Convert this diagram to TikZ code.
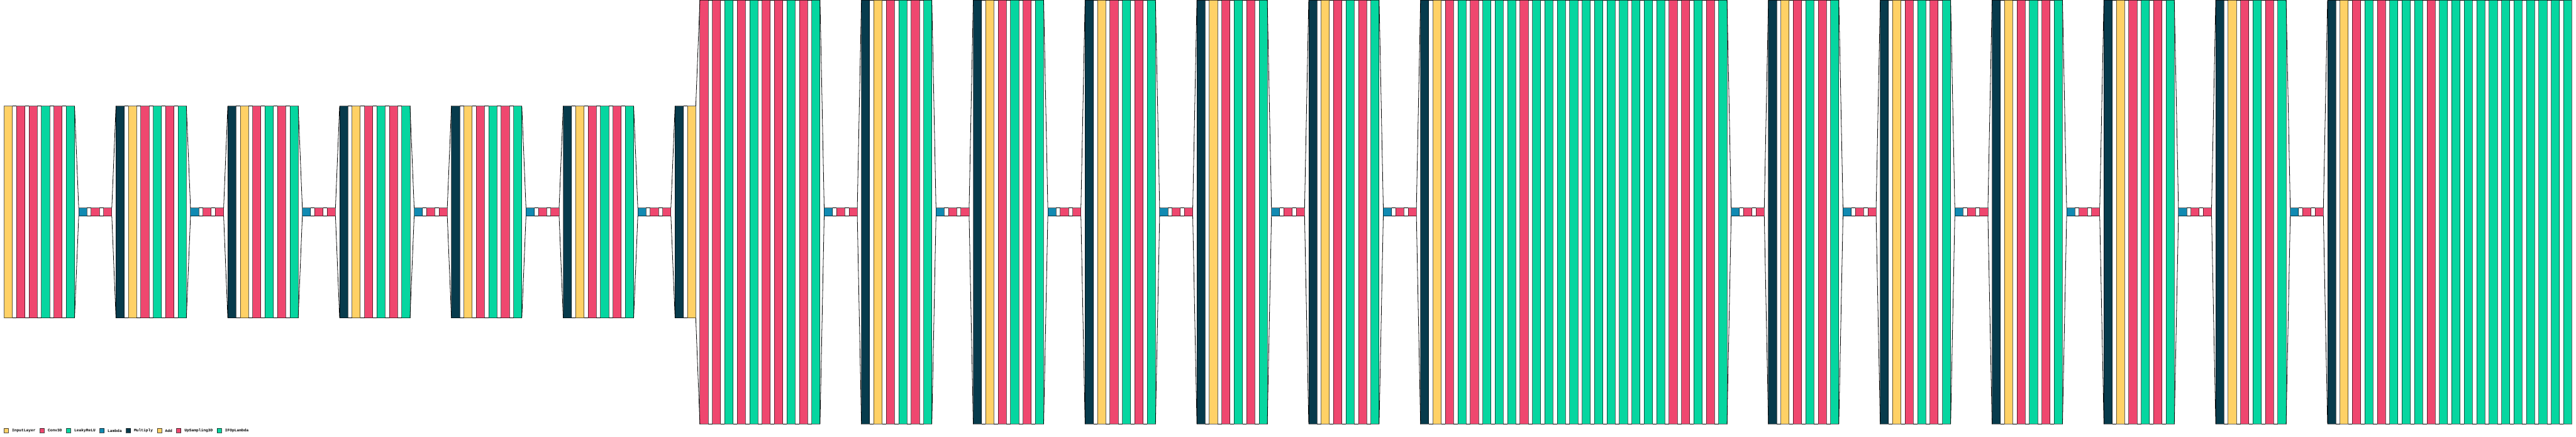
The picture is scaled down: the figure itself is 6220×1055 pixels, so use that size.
\documentclass[tikz,border=0pt]{standalone}
\usepackage{fontspec}
\newfontfamily\legendfont{Liberation Mono}
\usetikzlibrary{positioning}
\definecolor{cY}{HTML}{FFD166}
\definecolor{cR}{HTML}{EF476F}
\definecolor{cG}{HTML}{06D6A0}
\definecolor{cB}{HTML}{118AB2}
\definecolor{cN}{HTML}{073B4C}
\tikzset{
  layer/.style={rectangle, draw=black, draw opacity=0.6, line width=1.3pt,
    inner sep=0pt, outer sep=0pt, minimum width=20pt},
  funnel/.style={draw=black, line width=1.2pt},
  legbox/.style={rectangle, draw=black, draw opacity=0.7, line width=1.2pt,
    minimum width=10.5pt, minimum height=10.5pt, inner sep=0pt, outer sep=0pt},
  legtext/.style={font=\legendfont\bfseries\fontsize{9.5}{9.5}\selectfont,
    inner sep=0pt, outer sep=0pt, text=black}
}
\def\SG{N/512,Y/512,R/512,G/512,R/512,G/512}
\def\CN{B/20,R/20,R/20}
\def\TG{N/1024,Y/1024,R/1024,G/1024,R/1024,G/1024}
\def\GA{Y/512,R/512,R/512,G/512,R/512,G/512}
\def\GS{N/512,Y/512,R/1024,R/1024,G/1024,R/1024,G/1024,R/1024,R/1024,G/1024,R/1024,G/1024}
\def\GL{N/1024,Y/1024,R/1024,G/1024,R/1024,G/1024,G/1024,G/1024,R/1024,G/1024,G/1024,G/1024,G/1024,G/1024,G/1024,G/1024,G/1024,G/1024,G/1024,G/1024,R/1024,R/1024,G/1024,R/1024,G/1024}
\def\GZ{N/1024,Y/1024,R/1024,G/1024,R/1024,G/1024,G/1024,G/1024,R/1024,G/1024,G/1024,G/1024,G/1024,G/1024,G/1024,G/1024,G/1024,G/1024,G/1024,G/1024}
\edef\alllayers{\GA,\CN,\SG,\CN,\SG,\CN,\SG,\CN,\SG,\CN,\SG,\CN,\GS,\CN,\TG,\CN,\TG,\CN,\TG,\CN,\TG,\CN,\TG,\CN,\GL,\CN,\TG,\CN,\TG,\CN,\TG,\CN,\TG,\CN,\TG,\CN,\GZ}
\begin{document}
\begin{tikzpicture}[x=1pt,y=-1pt]
\useasboundingbox (0,0) rectangle (6220,1055);
\foreach \c/\h [count=\i from 0] in \alllayers {
  \node[layer, fill=c\c, minimum height=\h pt] (L\i) at ({20+30*\i},512) {};
}
\foreach \i in {1,...,206} {
  \pgfmathtruncatemacro\j{\i-1}
  \draw[funnel] (L\j.north east) -- (L\i.north west);
  \draw[funnel] (L\j.south east) -- (L\i.south west);
}
% legend
\node[legbox, fill=cY, anchor=west] (k1) at (10,1040) {};
\node[legtext, right=8.5pt of k1] (t1) {InputLayer};
\node[legbox, fill=cR, right=10.5pt of t1] (k2) {};
\node[legtext, right=8.5pt of k2] (t2) {Conv3D};
\node[legbox, fill=cG, right=10.5pt of t2] (k3) {};
\node[legtext, right=8.5pt of k3] (t3) {LeakyReLU};
\node[legbox, fill=cB, right=10.5pt of t3] (k4) {};
\node[legtext, right=8.5pt of k4] (t4) {Lambda};
\node[legbox, fill=cN, right=10.5pt of t4] (k5) {};
\node[legtext, right=8.5pt of k5] (t5) {Multiply};
\node[legbox, fill=cY, right=10.5pt of t5] (k6) {};
\node[legtext, right=8.5pt of k6] (t6) {Add};
\node[legbox, fill=cR, right=10.5pt of t6] (k7) {};
\node[legtext, right=8.5pt of k7] (t7) {UpSampling3D};
\node[legbox, fill=cG, right=10.5pt of t7] (k8) {};
\node[legtext, right=8.5pt of k8] (t8) {IFOpLambda};
\end{tikzpicture}
\end{document}
